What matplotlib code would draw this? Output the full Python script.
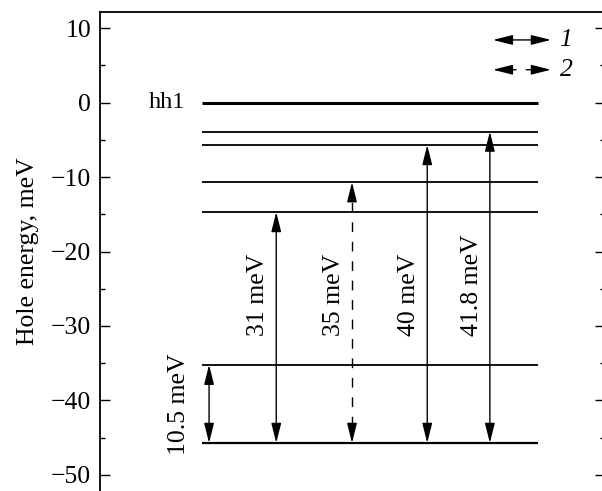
import matplotlib
matplotlib.use("Agg")
import matplotlib.pyplot as plt
from matplotlib.ticker import MultipleLocator

# hole levels, meV
levels = [0.0, -3.9, -5.7, -10.7, -14.7, -35.2, -45.7]
level_widths = [2.2, 1.3, 1.3, 1.3, 1.3, 1.3, 1.6]

# transitions: from lower level to upper level
trans_lo = [-45.7, -45.7, -45.7, -45.7, -45.7]
trans_hi = [-35.2, -14.7, -10.7, -5.7, -3.9]
trans_labels = ["10.5 meV", "31 meV", "35 meV", "40 meV", "41.8 meV"]
trans_kind = [1, 1, 2, 1, 1]

# horizontal layout (arbitrary x units, 0..100)
level_x = (20.2, 86.7)
trans_x = [21.6, 34.9, 49.9, 64.8, 77.2]

plt.rcParams["font.family"] = ["Liberation Serif", "DejaVu Serif"]

fig = plt.figure(figsize=(6.02, 4.91), dpi=100)
ax = fig.add_axes([100 / 602, 0.0, 505 / 602, 1 - 12 / 491])

ax.set_xlim(0, 100)
ax.set_ylim(-52.15, 12.15)

head = "head_length=1.2,head_width=0.3"
ap = dict(lw=1.0, color="k", shrinkA=0, shrinkB=0, mutation_scale=10)

for y, w in zip(levels, level_widths):
    ax.plot(level_x, [y, y], color="k", lw=w, solid_capstyle="butt")

ax.annotate("hh1", xy=(level_x[0], 0), xytext=(-12, 0), textcoords="offset points",
            ha="right", va="center", fontsize=17.5)

for x, lo, hi, lab, kind in zip(trans_x, trans_lo, trans_hi, trans_labels, trans_kind):
    if kind == 1:
        ax.annotate("", xy=(x, hi), xytext=(x, lo),
                    arrowprops=dict(arrowstyle="<|-|>," + head, **ap))
    else:
        ax.plot([x, x], [lo + 2.3, hi - 2.3], color="k", lw=1.0, dashes=(7, 7))
        ax.annotate("", xy=(x, hi), xytext=(x, hi - 2.5),
                    arrowprops=dict(arrowstyle="-|>," + head, **ap))
        ax.annotate("", xy=(x, lo), xytext=(x, lo + 2.5),
                    arrowprops=dict(arrowstyle="-|>," + head, **ap))
    if hi - lo < 20:
        ax.annotate(lab, xy=(x, (lo + hi) / 2), xytext=(-22, 0), textcoords="offset points",
                    rotation=90, ha="center", va="center", fontsize=18.5)
    else:
        ax.annotate(lab, xy=(x, -31.3), xytext=(-13, 0), textcoords="offset points",
                    rotation=90, ha="center", va="bottom", fontsize=18.5)

# legend
ax.annotate("", xy=(89.3, 8.4), xytext=(77.8, 8.4),
            arrowprops=dict(arrowstyle="<|-|>," + head, **ap))
ax.annotate("", xy=(77.8, 4.4), xytext=(82.4, 4.4),
            arrowprops=dict(arrowstyle="-|>," + head, **ap))
ax.annotate("", xy=(89.3, 4.4), xytext=(84.4, 4.4),
            arrowprops=dict(arrowstyle="-|>," + head, **ap))
ax.text(91.0, 8.4, "1", style="italic", ha="left", va="center", fontsize=18.5)
ax.text(91.0, 4.4, "2", style="italic", ha="left", va="center", fontsize=18.5)

ax.spines["bottom"].set_visible(False)
for s in ("left", "top", "right"):
    ax.spines[s].set_linewidth(1.3)

ax.set_xticks([])
ax.yaxis.set_major_locator(MultipleLocator(10))
ax.yaxis.set_minor_locator(MultipleLocator(5))
ax.tick_params(axis="y", which="both", direction="in", left=True, right=True,
               labelsize=18.5, width=1.0, pad=6.5)
ax.tick_params(axis="y", which="major", length=7)
ax.tick_params(axis="y", which="minor", length=3.5)

ax.set_ylabel("Hole energy, meV", fontsize=18.5)
ax.yaxis.set_label_coords(-0.12, 0.5)

fig.savefig("out.png", dpi=100)
